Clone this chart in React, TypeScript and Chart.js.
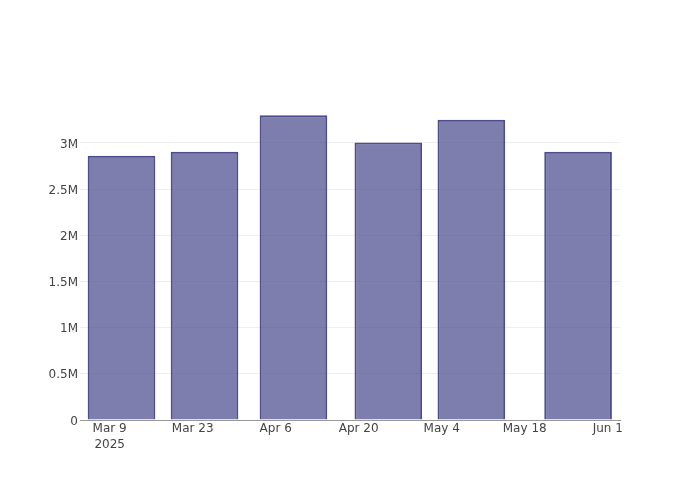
import React, { useEffect, useRef } from "react";
import { Chart, registerables } from "chart.js";

Chart.register(...registerables);

// Data
const axisStartDate = "2025-03-09";
const barDates = ["2025-03-11", "2025-03-25", "2025-04-09", "2025-04-25", "2025-05-09", "2025-05-27"];
const values = [2860000, 2905000, 3300000, 3005000, 3250000, 2905000];

const xTickDates = ["2025-03-09", "2025-03-23", "2025-04-06", "2025-04-20", "2025-05-04", "2025-05-18", "2025-06-01"];
const xTickLabels: (string | string[])[] = [["Mar 9", "2025"], "Mar 23", "Apr 6", "Apr 20", "May 4", "May 18", "Jun 1"];

const yTickValues = [0, 500000, 1000000, 1500000, 2000000, 2500000, 3000000];
const yTickLabels = ["0", "0.5M", "1M", "1.5M", "2M", "2.5M", "3M"];

const DAY = 86400000;
const dayOffset = (d: string) => Math.round((Date.parse(d) - Date.parse(axisStartDate)) / DAY);

const FONT = { family: "'DejaVu Sans', sans-serif", size: 12, lineHeight: 1.33 };

export default function App() {
  const ref = useRef<HTMLCanvasElement>(null);

  useEffect(() => {
    const xTickDays = xTickDates.map(dayOffset);
    const chart = new Chart(ref.current!, {
      type: "bar",
      data: {
        datasets: [
          {
            data: barDates.map((d, i) => ({ x: dayOffset(d), y: values[i] })),
            backgroundColor: "rgba(70,70,140,0.7)",
            borderColor: "rgba(62,62,132,0.92)",
            borderWidth: 2,
            barPercentage: 0.815,
            categoryPercentage: 1,
          },
        ],
      },
      options: {
        responsive: false,
        animation: false,
        devicePixelRatio: 1,
        layout: { padding: { top: 100, right: 80, left: 0, bottom: 0 } },
        plugins: { legend: { display: false }, tooltip: { enabled: false } },
        scales: {
          x: {
            type: "linear",
            min: -5.0,
            max: 86.07,
            offset: false,
            grid: { display: false, drawTicks: false, offset: false },
            border: { display: true, color: "#999", width: 1 },
            afterBuildTicks: (scale: any) => {
              scale.ticks = xTickDays.map((v) => ({ value: v }));
            },
            afterFit: (scale: any) => {
              scale.height = 80;
            },
            ticks: {
              autoSkip: false,
              maxRotation: 0,
              minRotation: 0,
              padding: 1,
              color: "#444",
              font: FONT,
              callback: (v: any) => xTickLabels[xTickDays.indexOf(Number(v))] ?? "",
            },
          },
          y: {
            type: "linear",
            min: 0,
            max: 3465000,
            grid: { color: "#eee", lineWidth: 1, drawTicks: false },
            border: { display: false },
            afterBuildTicks: (scale: any) => {
              scale.ticks = yTickValues.map((v) => ({ value: v }));
            },
            afterFit: (scale: any) => {
              scale.width = 80;
            },
            ticks: {
              padding: 2,
              labelOffset: 1.5,
              color: "#444",
              font: { family: "'DejaVu Sans', sans-serif", size: 12 },
              callback: (v: any) => yTickLabels[yTickValues.indexOf(Number(v))] ?? "",
            },
          },
        },
      },
    } as any);
    return () => chart.destroy();
  }, []);

  return (
    <div style={{ position: "absolute", left: 0, top: 0, width: 700, height: 500, background: "#fff" }}>
      <canvas ref={ref} width={700} height={500} style={{ display: "block", width: 700, height: 500 }} />
    </div>
  );
}
